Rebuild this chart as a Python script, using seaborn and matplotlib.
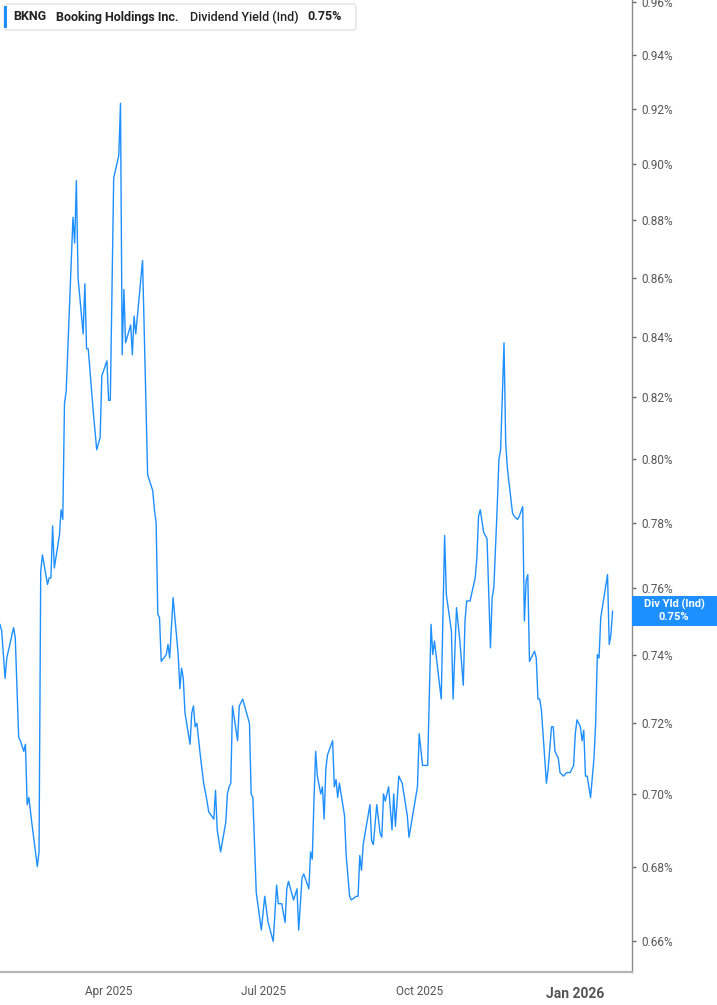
import matplotlib
matplotlib.use("Agg")
import matplotlib.pyplot as plt
import matplotlib.transforms as mtransforms
from matplotlib.patches import FancyBboxPatch, Rectangle
from matplotlib.ticker import FixedLocator, FuncFormatter, NullLocator
import pandas as pd
import seaborn as sns


TICKER = "BKNG"
COMPANY = "Booking Holdings Inc."
METRIC = "Dividend Yield (Ind)"
SHORT_METRIC = "Div Yld (Ind)"
LAST_VALUE = 0.75

# dividend yield (%)
DATES = [
	"2025-01-27", "2025-01-28", "2025-01-30", "2025-01-31", "2025-02-04", "2025-02-05",
	"2025-02-07", "2025-02-08", "2025-02-10", "2025-02-11", "2025-02-12", "2025-02-13",
	"2025-02-15", "2025-02-18", "2025-02-19", "2025-02-20", "2025-02-21", "2025-02-24",
	"2025-02-25", "2025-02-26", "2025-02-27", "2025-02-28", "2025-03-03", "2025-03-04",
	"2025-03-05", "2025-03-06", "2025-03-07", "2025-03-11", "2025-03-12", "2025-03-13",
	"2025-03-14", "2025-03-17", "2025-03-18", "2025-03-19", "2025-03-20", "2025-03-23",
	"2025-03-25", "2025-03-27", "2025-03-28", "2025-03-31", "2025-04-01", "2025-04-02",
	"2025-04-04", "2025-04-07", "2025-04-08", "2025-04-09", "2025-04-10", "2025-04-11",
	"2025-04-14", "2025-04-15", "2025-04-16", "2025-04-17", "2025-04-21", "2025-04-24",
	"2025-04-27", "2025-04-28", "2025-04-29", "2025-04-30", "2025-05-01", "2025-05-02",
	"2025-05-05", "2025-05-06", "2025-05-07", "2025-05-09", "2025-05-12", "2025-05-13",
	"2025-05-14", "2025-05-15", "2025-05-16", "2025-05-19", "2025-05-20", "2025-05-21",
	"2025-05-22", "2025-05-23", "2025-05-25", "2025-05-27", "2025-05-29", "2025-05-30",
	"2025-06-02", "2025-06-03", "2025-06-04", "2025-06-06", "2025-06-09", "2025-06-10",
	"2025-06-11", "2025-06-12", "2025-06-13", "2025-06-16", "2025-06-17", "2025-06-19",
	"2025-06-23", "2025-06-24", "2025-06-25", "2025-06-27", "2025-06-30", "2025-07-02",
	"2025-07-04", "2025-07-07", "2025-07-09", "2025-07-10", "2025-07-12", "2025-07-14",
	"2025-07-15", "2025-07-16", "2025-07-19", "2025-07-21", "2025-07-22", "2025-07-24",
	"2025-07-25", "2025-07-28", "2025-07-29", "2025-07-30", "2025-07-31", "2025-08-01",
	"2025-08-02", "2025-08-04", "2025-08-05", "2025-08-06", "2025-08-07", "2025-08-08",
	"2025-08-11", "2025-08-12", "2025-08-13", "2025-08-14", "2025-08-15", "2025-08-18",
	"2025-08-19", "2025-08-21", "2025-08-22", "2025-08-25", "2025-08-26", "2025-08-27",
	"2025-08-28", "2025-08-29", "2025-09-02", "2025-09-03", "2025-09-04", "2025-09-06",
	"2025-09-08", "2025-09-09", "2025-09-10", "2025-09-11", "2025-09-13", "2025-09-15",
	"2025-09-16", "2025-09-17", "2025-09-19", "2025-09-21", "2025-09-23", "2025-09-24",
	"2025-09-25", "2025-09-30", "2025-10-01", "2025-10-03", "2025-10-06", "2025-10-08",
	"2025-10-09", "2025-10-10", "2025-10-14", "2025-10-16", "2025-10-17", "2025-10-20",
	"2025-10-21", "2025-10-23", "2025-10-25", "2025-10-27", "2025-10-28", "2025-10-29",
	"2025-10-31", "2025-11-03", "2025-11-04", "2025-11-05", "2025-11-06", "2025-11-08",
	"2025-11-10", "2025-11-12", "2025-11-13", "2025-11-14", "2025-11-16", "2025-11-17",
	"2025-11-18", "2025-11-20", "2025-11-21", "2025-11-22", "2025-11-25", "2025-11-26",
	"2025-11-28", "2025-11-29", "2025-12-01", "2025-12-02", "2025-12-03", "2025-12-04",
	"2025-12-05", "2025-12-08", "2025-12-09", "2025-12-10", "2025-12-11", "2025-12-12",
	"2025-12-15", "2025-12-16", "2025-12-18", "2025-12-19", "2025-12-20", "2025-12-22",
	"2025-12-23", "2025-12-25", "2025-12-27", "2025-12-29", "2025-12-31", "2026-01-01",
	"2026-01-02", "2026-01-04", "2026-01-05", "2026-01-06", "2026-01-07", "2026-01-08",
	"2026-01-10", "2026-01-12", "2026-01-13", "2026-01-14", "2026-01-15", "2026-01-16",
	"2026-01-20", "2026-01-21", "2026-01-22", "2026-01-23",
]
DIV_YIELD = [
	0.749, 0.747, 0.733, 0.739, 0.748, 0.745,
	0.716, 0.715, 0.712, 0.714, 0.697, 0.699,
	0.691, 0.680, 0.684, 0.765, 0.770, 0.761,
	0.763, 0.763, 0.779, 0.766, 0.776, 0.784,
	0.781, 0.818, 0.822, 0.881, 0.872, 0.894,
	0.860, 0.841, 0.858, 0.836, 0.836, 0.815,
	0.803, 0.807, 0.827, 0.832, 0.819, 0.819,
	0.895, 0.903, 0.922, 0.834, 0.856, 0.838,
	0.844, 0.834, 0.847, 0.841, 0.866, 0.795,
	0.790, 0.784, 0.780, 0.752, 0.751, 0.738,
	0.740, 0.743, 0.739, 0.757, 0.740, 0.730,
	0.736, 0.733, 0.723, 0.714, 0.723, 0.725,
	0.719, 0.720, 0.711, 0.703, 0.698, 0.695,
	0.693, 0.701, 0.690, 0.684, 0.692, 0.700,
	0.702, 0.703, 0.725, 0.715, 0.725, 0.727,
	0.720, 0.700, 0.699, 0.673, 0.663, 0.672,
	0.665, 0.660, 0.675, 0.670, 0.670, 0.665,
	0.674, 0.676, 0.671, 0.674, 0.663, 0.677,
	0.678, 0.674, 0.684, 0.682, 0.698, 0.712,
	0.705, 0.700, 0.702, 0.693, 0.707, 0.711,
	0.715, 0.702, 0.704, 0.699, 0.703, 0.694,
	0.683, 0.672, 0.671, 0.672, 0.672, 0.683,
	0.679, 0.686, 0.697, 0.687, 0.686, 0.697,
	0.689, 0.688, 0.700, 0.698, 0.702, 0.690,
	0.700, 0.691, 0.705, 0.703, 0.697, 0.694,
	0.688, 0.702, 0.717, 0.708, 0.708, 0.749,
	0.740, 0.744, 0.727, 0.776, 0.758, 0.747,
	0.727, 0.754, 0.744, 0.731, 0.750, 0.756,
	0.756, 0.763, 0.769, 0.782, 0.784, 0.777,
	0.775, 0.742, 0.757, 0.760, 0.785, 0.800,
	0.803, 0.838, 0.805, 0.797, 0.783, 0.782,
	0.781, 0.782, 0.785, 0.750, 0.762, 0.764,
	0.738, 0.741, 0.739, 0.727, 0.727, 0.724,
	0.703, 0.707, 0.719, 0.719, 0.712, 0.710,
	0.706, 0.705, 0.706, 0.706, 0.708, 0.717,
	0.721, 0.719, 0.715, 0.718, 0.705, 0.705,
	0.699, 0.710, 0.720, 0.740, 0.739, 0.751,
	0.764, 0.743, 0.746, 0.753,
]

Y_TICKS = [0.66, 0.68, 0.70, 0.72, 0.74, 0.76, 0.78, 0.80, 0.82, 0.84, 0.86, 0.88, 0.90, 0.92, 0.94, 0.96]
X_TICKS = ["2025-04-01", "2025-07-01", "2025-10-01", "2026-01-01"]
X_TICK_LABELS = ["Apr 2025", "Jul 2025", "Oct 2025", "Jan 2026"]
X_RANGE = ["2025-01-27 00:00", "2026-02-03 10:00"]
Y_RANGE = [0.652, 0.9608]

LINE_BLUE = "#1e8fff"
W, H = 717, 1005

df = pd.DataFrame({"date": pd.to_datetime(DATES), "yield": DIV_YIELD})

sns.set_theme(style="white")
plt.rcParams["font.family"] = ["Roboto", "DejaVu Sans"]

fig = plt.figure(figsize=(W / 100, H / 100), dpi=100)
ax = fig.add_axes([0, 33 / H, 632 / W, 972 / H])

sns.lineplot(data=df, x="date", y="yield", ax=ax, color=LINE_BLUE, linewidth=1.0)

ax.set_yscale("log")
ax.set_ylim(*Y_RANGE)
ax.set_xlim(pd.Timestamp(X_RANGE[0]), pd.Timestamp(X_RANGE[1]))
ax.yaxis.set_major_locator(FixedLocator(Y_TICKS))
ax.yaxis.set_minor_locator(NullLocator())
ax.yaxis.set_major_formatter(FuncFormatter(lambda v, _: f"{v:.2f}%"))
ax.yaxis.tick_right()
ax.set_xticks(pd.to_datetime(X_TICKS))
ax.set_xticklabels(X_TICK_LABELS)
ax.set_xlabel("")
ax.set_ylabel("")

for side in ["top", "left"]:
	ax.spines[side].set_visible(False)
ax.spines["right"].set_color("#8a8a8a")
ax.spines["right"].set_linewidth(1.0)
ax.spines["bottom"].set_color("#b4b4b4")
ax.spines["bottom"].set_linewidth(1.6)

ax.tick_params(axis="y", length=3, width=1, color="#666666", labelcolor="#555555", labelsize=8.5, pad=4)
ax.tick_params(axis="x", length=4, width=1, color="#b4b4b4", labelcolor="#555555", labelsize=8.5, pad=5)

jan = ax.get_xticklabels()[-1]
jan.set_fontweight("bold")
jan.set_fontsize(10)
jan.set_transform(jan.get_transform() + mtransforms.ScaledTranslation(0, -2 / 72, fig.dpi_scale_trans))

# header box, top left
fig.patches.append(FancyBboxPatch(
	(4 / W, 1 - 30 / H), 352 / W, 26 / H,
	boxstyle="round,pad=0,rounding_size=0.004", transform=fig.transFigure,
	facecolor="white", edgecolor="#e2e2e2", linewidth=1.0, zorder=5))
fig.patches.append(Rectangle(
	(4 / W, 1 - 28 / H), 3 / W, 22 / H, transform=fig.transFigure,
	facecolor=LINE_BLUE, edgecolor="none", zorder=6))
hy = 1 - 17 / H
fig.text(13 / W, hy, TICKER, fontsize=9, fontweight="bold", color="#222222", va="center", zorder=7)
fig.text(56 / W, hy, COMPANY, fontsize=9, fontweight="bold", color="#222222", va="center", zorder=7)
fig.text(190 / W, hy, METRIC, fontsize=9, fontweight="medium", color="#222222", va="center", zorder=7)
fig.text(307 / W, hy, f"{LAST_VALUE:.2f}%", fontsize=9, fontweight="bold", color="#222222", va="center", zorder=7)

# last-value tag on the right axis
fig.patches.append(Rectangle(
	(632 / W, 1 - 626 / H), 85 / W, 30 / H, transform=fig.transFigure,
	facecolor=LINE_BLUE, edgecolor="none", zorder=6))
fig.text(674 / W, 1 - 604.5 / H, SHORT_METRIC, fontsize=8, fontweight="bold", color="white",
	ha="center", va="center", zorder=7)
fig.text(674 / W, 1 - 617 / H, f"{LAST_VALUE:.2f}%", fontsize=8, fontweight="bold", color="white",
	ha="center", va="center", zorder=7)

fig.savefig("out.png", dpi=100)
plt.close(fig)
